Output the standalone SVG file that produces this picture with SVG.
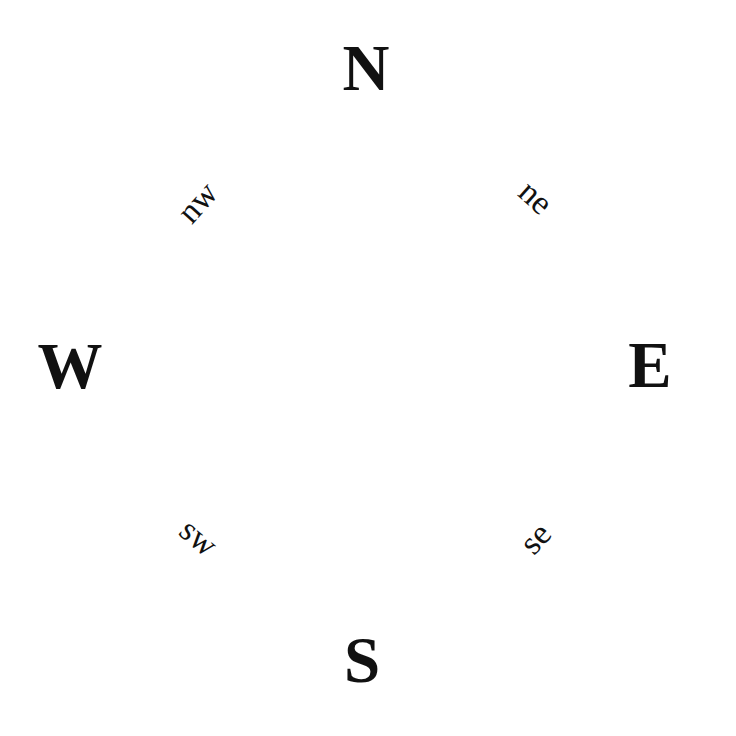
<svg xmlns="http://www.w3.org/2000/svg" width="736" height="736" viewBox="0 0 736 736">
<style>
.big{font-family:"Liberation Serif","Times New Roman",serif;font-weight:bold;font-size:65px;fill:#111;text-anchor:middle}
.small{font-family:"Liberation Serif","Times New Roman",serif;font-size:34px;fill:#111;text-anchor:middle;dominant-baseline:central}
</style>
<rect width="736" height="736" fill="#fff"/>
<g id="N"><text class="big" x="366" y="90">N</text></g>
<g id="E"><text class="big" x="650" y="387">E</text></g>
<g id="S"><text class="big" x="362" y="682">S</text></g>
<g id="W"><text class="big" x="70" y="388">W</text></g>
<g id="nw"><text class="small" transform="translate(197,202) rotate(-48)">nw</text></g>
<g id="ne"><text class="small" transform="translate(536,197) rotate(42)">ne</text></g>
<g id="sw"><text class="small" transform="translate(199,537) rotate(40)">sw</text></g>
<g id="se"><text class="small" transform="translate(535,538) rotate(-48)">se</text></g>
</svg>
